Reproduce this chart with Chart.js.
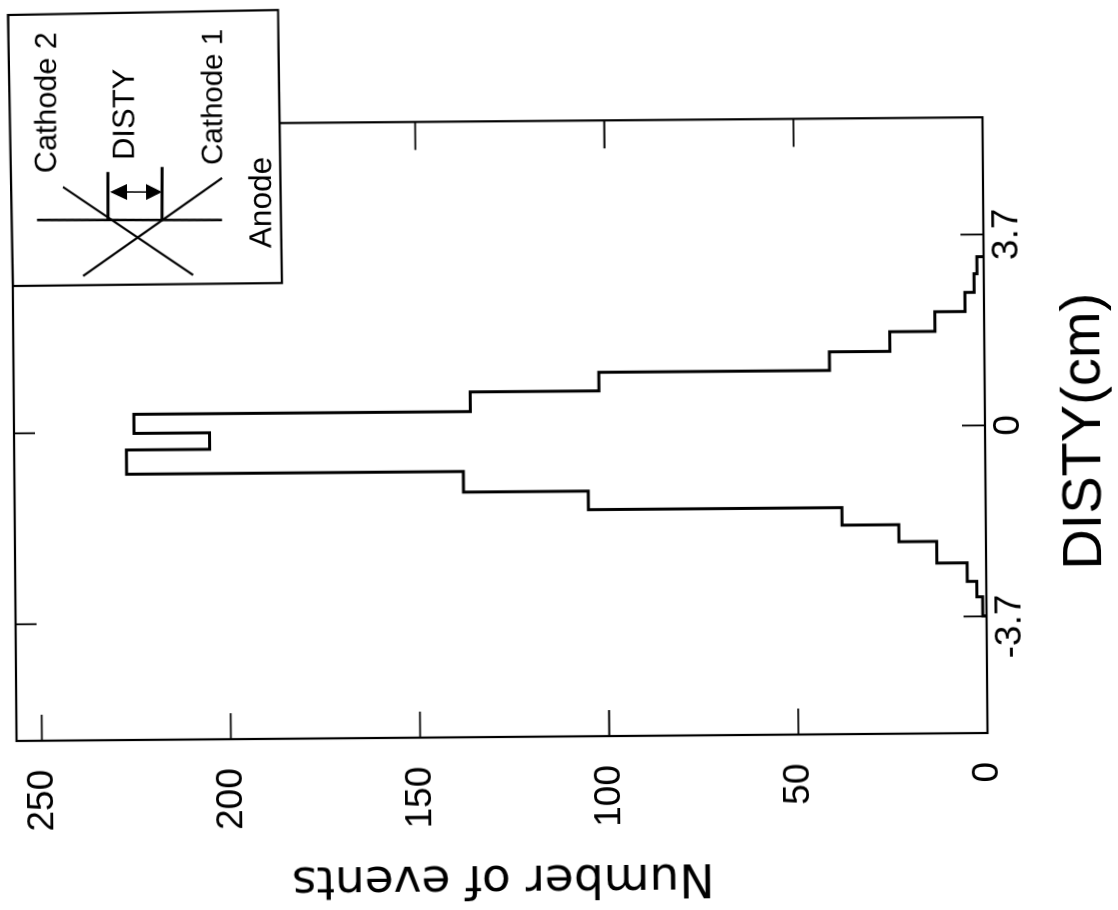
<!DOCTYPE html>
<html>
<head>
<meta charset="utf-8">
<title>DISTY histogram</title>
<script src="https://cdn.jsdelivr.net/npm/chart.js@4"></script>
<style>
html,body{margin:0;padding:0;background:#fff;overflow:hidden;width:1118px;height:910px}
#scan{position:absolute;left:0;top:0;width:1118px;height:910px;transform-origin:985px 427px;transform:rotate(-0.47deg)}
#c{position:absolute;left:0;top:0;transform-origin:0 0;transform:translateY(910px) rotate(-90deg)}
</style>
</head>
<body>
<div id="scan"><canvas id="c" width="910" height="1118"></canvas></div>
<script>
const binEdges = [-3.69,-3.32,-3.02,-2.66,-2.24,-1.91,-1.57,-1.21,-0.81,-0.34,-0.02,0.35,0.73,1.09,1.45,1.83,2.21,2.58,2.94,3.27];
const counts   = [1,2.5,5,13,23,38,105,138,227,205,225,136,102,41,25,13,5,2.6,1.8];
const xTicks = [-3.7,0,3.7];
const yTicks = [0,50,100,150,200,250];
const xTitle = 'DISTY(cm)';
const yTitle = 'Number of events';
const insetLabels = ['Cathode 2','Cathode 1','DISTY','Anode'];

const outline = [{x:binEdges[0],y:0}];
counts.forEach((c,i)=>{outline.push({x:binEdges[i],y:c});outline.push({x:binEdges[i+1],y:c});});
outline.push({x:binEdges[binEdges.length-1],y:0});

const frame = {
  id:'frame',
  afterLayout(chart){
    const s = chart.scales.x;
    if(!s._shifted){
      const orig = s.drawTitle;
      s.drawTitle = function(){
        chart.ctx.save();chart.ctx.translate(-7,0);orig.call(this);chart.ctx.restore();
      };
      s._shifted = true;
    }
  },
  afterDatasetsDraw(chart){
    const {ctx,chartArea:a,scales:{x,y}} = chart;
    ctx.save();
    ctx.strokeStyle='#000';
    ctx.lineWidth=2.2;
    ctx.strokeRect(a.left,a.top,a.right-a.left,a.bottom-a.top);
    ctx.lineWidth=1.8;
    ctx.beginPath();
    xTicks.forEach(v=>{
      const p=x.getPixelForValue(v);
      ctx.moveTo(p,a.bottom);ctx.lineTo(p,a.bottom-23);
      ctx.moveTo(p,a.top);ctx.lineTo(p,a.top+21);
    });
    yTicks.slice(1).forEach(v=>{
      const p=y.getPixelForValue(v);
      ctx.moveTo(a.left,p);ctx.lineTo(a.left+26,p);
      ctx.moveTo(a.right,p);ctx.lineTo(a.right-28,p);
    });
    ctx.stroke();
    ctx.restore();
  },
  afterDraw(chart){
    const ctx=chart.ctx;
    const m=new DOMMatrix().translate(985,427).rotate(-0.47).translate(-985,-427).translate(0,910).rotate(-90);
    ctx.save();
    ctx.setTransform(m.inverse());
    ctx.strokeStyle='#000';ctx.fillStyle='#fff';ctx.lineWidth=2.2;ctx.lineJoin='miter';
    ctx.beginPath();ctx.moveTo(8,15);ctx.lineTo(278,10);ctx.lineTo(282,283);ctx.lineTo(13,286);ctx.closePath();
    ctx.fill();ctx.stroke();
    const seg=(a,b,c,d,w)=>{ctx.lineWidth=w;ctx.beginPath();ctx.moveTo(a,b);ctx.lineTo(c,d);ctx.stroke();};
    seg(37,220,222,220,2.5);
    seg(83,276,222,178,2.2);
    seg(63,187,193,275,2.2);
    seg(108,172,108,220,3);
    seg(162,167,162,220,3);
    seg(112,192,160,192,1.5);
    ctx.fillStyle='#000';
    ctx.beginPath();ctx.moveTo(110,192);ctx.lineTo(127,184);ctx.lineTo(127,200);ctx.closePath();ctx.fill();
    ctx.beginPath();ctx.moveTo(162,192);ctx.lineTo(146,184);ctx.lineTo(146,200);ctx.closePath();ctx.fill();
    const txt=(s,bx,sy,size)=>{
      ctx.save();ctx.translate(bx,sy);ctx.rotate(-Math.PI/2);
      ctx.font=size+'px "Liberation Sans"';ctx.textAlign='left';ctx.textBaseline='alphabetic';
      ctx.fillText(s,0,0);ctx.restore();
    };
    txt(insetLabels[0],56,173,30.5);
    txt(insetLabels[1],222,165,29.5);
    txt(insetLabels[2],134,160,31);
    txt(insetLabels[3],271,248,31.5);
    ctx.restore();
  }
};

new Chart(document.getElementById('c'),{
  type:'scatter',
  data:{datasets:[{
    data:outline,showLine:true,borderColor:'#000',borderWidth:3,pointRadius:0,
    borderJoinStyle:'miter',tension:0,fill:false
  }]},
  plugins:[frame],
  options:{
    responsive:false,animation:false,devicePixelRatio:1,
    layout:{padding:{left:0,right:117.3,top:14,bottom:0}},
    plugins:{legend:{display:false},tooltip:{enabled:false}},
    scales:{
      x:{
        type:'linear',min:-5.96,max:5.97,
        afterBuildTicks(s){s.ticks=xTicks.map(v=>({value:v}));},
        afterFit(s){s.height=133;s.paddingLeft=0;s.paddingRight=0;},
        grid:{display:false,drawTicks:false},border:{display:false},
        ticks:{color:'#000',padding:2,maxRotation:0,minRotation:0,autoSkip:false,
          font:{family:'"Liberation Sans"',size:37},callback:v=>v<0?String(v)+'  ':String(v)},
        title:{display:true,text:xTitle,color:'#000',padding:{top:0,bottom:0},
          font:{family:'"Liberation Sans"',size:56}}
      },
      y:{
        type:'linear',min:0,max:256.7,
        afterBuildTicks(s){s.ticks=yTicks.map(v=>({value:v}));},
        afterFit(s){s.width=177;s.paddingTop=0;s.paddingBottom=0;},
        grid:{display:false,drawTicks:false},border:{display:false},
        ticks:{color:'#000',padding:29,font:{family:'"Liberation Sans"',size:37},callback:v=>String(v)},
        title:{display:true,text:yTitle,color:'#000',padding:{top:8,bottom:0},
          font:{family:'"DejaVu Sans"',size:47}}
      }
    }
  }
});
</script>
</body>
</html>
